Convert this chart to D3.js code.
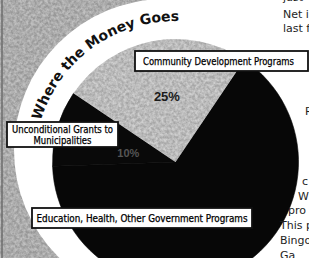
<!DOCTYPE html>
<html>
<head>
<meta charset="utf-8">
<script src="https://cdn.jsdelivr.net/npm/d3@7"></script>
<style>
body { margin: 0; background: #fff; }
svg { display: block; }
</style>
</head>
<body>
<div id="chart"></div>
<script>
// Where the money goes (share of spending, %)
let categories = ["Education, Health, Other Government Programs", "Unconditional Grants to Municipalities", "Community Development Programs"];
let shares = [65, 10, 25];
let shareLabels = ["", "10%", "25%"];
let title = "Where the Money Goes";

let width = 309, height = 258;
let cx = 175.5, cy = 162, radius = 123;
let deg = Math.PI / 180;

let svg = d3.select("#chart")
    .append("svg")
    .attr("width", width)
    .attr("height", height);

let defs = svg.append("defs");

// newsprint grain for the grey areas
let grain = defs.append("filter")
    .attr("id", "grain")
    .attr("x", 0).attr("y", 0)
    .attr("width", "100%").attr("height", "100%")
    .attr("color-interpolation-filters", "sRGB");
grain.append("feTurbulence")
    .attr("type", "fractalNoise")
    .attr("baseFrequency", 0.35)
    .attr("numOctaves", 3)
    .attr("seed", 7);
grain.append("feColorMatrix")
    .attr("type", "matrix")
    .attr("values", "2 0 0 0 -0.5  2 0 0 0 -0.5  2 0 0 0 -0.5  0 0 0 0 0.16");
grain.append("feComposite").attr("in2", "SourceGraphic").attr("operator", "in");

// grey page tint on the left, with a white halo round the pie
svg.append("rect")
    .attr("x", 0).attr("y", 0)
    .attr("width", 175).attr("height", height)
    .attr("fill", "#b4b4b4");
svg.append("rect")
    .attr("x", 0).attr("y", 0)
    .attr("width", 175).attr("height", height)
    .attr("filter", "url(#grain)");
svg.append("line")
    .attr("x1", 2).attr("x2", 2)
    .attr("y1", 0).attr("y2", height)
    .attr("stroke", "#6d6d6d")
    .attr("stroke-width", 1.5);
svg.append("circle")
    .attr("cx", 165).attr("cy", 150)
    .attr("r", 151)
    .attr("fill", "#fff");

// pie, starting at the right edge of the grey slice
let pie = d3.pie()
    .sort(null)
    .startAngle(34 * deg)
    .endAngle(34 * deg + 2 * Math.PI);

let arc = d3.arc().innerRadius(0).outerRadius(radius);
let colors = d3.scaleOrdinal().domain(categories).range(["#070707", "#090909", "#c6c6c6"]);

let slices = pie(shares).map((d, i) => Object.assign(d, { name: categories[i], label: shareLabels[i] }));

let pieG = svg.append("g").attr("transform", `translate(${cx},${cy})`);

pieG.selectAll("path.slice")
    .data(slices)
    .enter()
    .append("path")
    .attr("class", "slice")
    .attr("d", arc)
    .attr("fill", d => colors(d.name))
    .attr("stroke", d => d.index == 2 ? "none" : colors(d.name))
    .attr("stroke-width", 0.6);

// grain on the light slice
pieG.append("path")
    .attr("d", arc(slices[2]))
    .attr("filter", "url(#grain)");

// percentage labels
let labelRadius = [0, 48, 66];
pieG.selectAll("text.pct")
    .data(slices.filter(d => d.label))
    .enter()
    .append("text")
    .attr("class", "pct")
    .attr("transform", d => {
        let r = labelRadius[d.index];
        let c = d3.arc().innerRadius(r).outerRadius(r).centroid(d);
        return d.index == 2 ? `translate(${c[0] + 4},${c[1] + 4})` : `translate(${c[0] - 1},${c[1] + 8})`;
    })
    .attr("text-anchor", "middle")
    .attr("font-family", "'Liberation Sans', Arial, sans-serif")
    .attr("font-weight", "bold")
    .attr("font-size", d => d.index == 2 ? 13 : 11)
    .attr("fill", d => d.index == 2 ? "#1a1a1a" : "#555")
    .text(d => d.label);

// article column text on the right (cut off by the frame)
let columnText = [
    { t: "just", x: 283, y: 1 },
    { t: "Net in", x: 283, y: 18 },
    { t: "last fi", x: 283, y: 32 },
    { t: "R", x: 305, y: 115 },
    { t: "c", x: 302, y: 185 },
    { t: "W", x: 298, y: 200 },
    { t: "pro", x: 288, y: 214 },
    { t: "This p", x: 280, y: 229 },
    { t: "Bingo", x: 280, y: 244 },
    { t: "Ga", x: 280, y: 259 }
];
svg.append("g")
    .selectAll("text")
    .data(columnText)
    .enter()
    .append("text")
    .attr("x", d => d.x)
    .attr("y", d => d.y)
    .attr("font-family", "'DejaVu Sans', sans-serif")
    .attr("font-size", 11)
    .attr("fill", "#1e1e1e")
    .text(d => d.t);

// curved title round the top-left of the pie
let titlePath = d3.path();
titlePath.arc(cx, cy, 141, (287 - 90) * deg, (420 - 90) * deg);
defs.append("path")
    .attr("id", "titlePath")
    .attr("d", titlePath.toString());

svg.append("text")
    .attr("font-family", "'DejaVu Sans', sans-serif")
    .attr("font-weight", "bold")
    .attr("font-size", 14)
    .attr("fill", "#111")
    .append("textPath")
    .attr("href", "#titlePath")
    .text(title);

// boxed category callouts
let callouts = [
    { index: 2, x: 135, y: 51, w: 173, h: 20, lines: 1, tw: [151] },
    { index: 1, x: 7, y: 122, w: 111, h: 25, lines: 2, tw: [101, 58] },
    { index: 0, x: 32, y: 208, w: 220, h: 20, lines: 1, tw: [211] }
];

function wrapName(name, n) {
    if (n == 1) return [name];
    let words = name.split(" ");
    return [words.slice(0, -1).join(" "), words[words.length - 1]];
}

let boxes = svg.append("g")
    .selectAll("g")
    .data(callouts)
    .enter()
    .append("g");

boxes.append("rect")
    .attr("x", d => d.x)
    .attr("y", d => d.y)
    .attr("width", d => d.w)
    .attr("height", d => d.h)
    .attr("fill", "#fff")
    .attr("stroke", "#111")
    .attr("stroke-width", 1.8);

boxes.each(function(d) {
    let lines = wrapName(categories[d.index], d.lines);
    let lineH = 11;
    let firstY = d.y + d.h / 2 + 3.5 - (lines.length - 1) * lineH / 2;
    d3.select(this).selectAll("text")
        .data(lines)
        .enter()
        .append("text")
        .attr("x", d.x + d.w / 2 - (d.index == 2 ? 3 : 0))
        .attr("y", (l, i) => firstY + i * lineH)
        .attr("text-anchor", "middle")
        .attr("font-family", "'Liberation Sans Narrow', 'DejaVu Sans Condensed', Arial, sans-serif")
        .attr("font-size", 10)
        .attr("fill", "#000")
        .attr("stroke", "#000")
        .attr("stroke-width", 0.25)
        .attr("textLength", (l, i) => d.tw[i])
        .attr("lengthAdjust", "spacingAndGlyphs")
        .text(l => l);
});
</script>
</body>
</html>
